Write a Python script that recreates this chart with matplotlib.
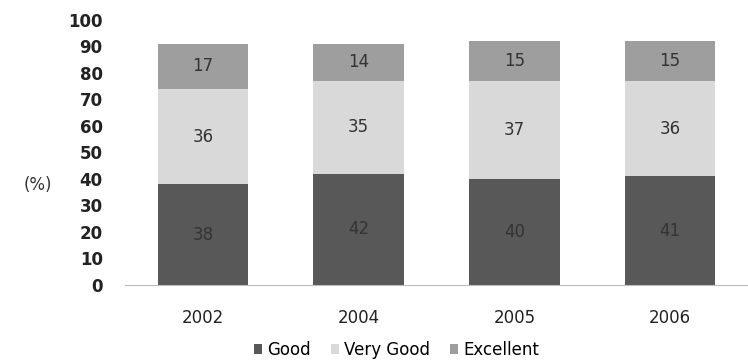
import numpy as np
import matplotlib.pyplot as plt

years = ["2002", "2004", "2005", "2006"]
good = [38, 42, 40, 41]
very_good = [36, 35, 37, 36]
excellent = [17, 14, 15, 15]

series = [
    ("Good", good, "#585858"),
    ("Very Good", very_good, "#d9d9d9"),
    ("Excellent", excellent, "#9e9e9e"),
]

fig = plt.figure(figsize=(7.48, 3.63), dpi=100)
ax = fig.add_axes([0.167, 0.215, 0.833, 0.73])

x = np.arange(len(years))
bottom = np.zeros(len(years))
for name, vals, color in series:
    ax.bar(x, vals, 0.58, bottom=bottom, color=color, label=name)
    # value label in the middle of each segment
    for xi, b, v in zip(x, bottom, vals):
        ax.text(xi, b + v / 2, str(v), ha="center", va="center",
                fontsize=12, color="#333333")
    bottom += np.array(vals)

ax.set_xlim(-0.5, len(years) - 0.5)
ax.set_ylim(0, 100)
ax.set_yticks(range(0, 101, 10))
ax.set_xticks(x)
ax.set_xticklabels(years, fontsize=12, color="#222222")
for lbl in ax.get_yticklabels():
    lbl.set_fontsize(12)
    lbl.set_fontweight("bold")
    lbl.set_color("#222222")
ax.tick_params(axis="both", length=0)
ax.tick_params(axis="x", pad=17)
ax.tick_params(axis="y", pad=16)
for side in ["top", "right", "left"]:
    ax.spines[side].set_visible(False)
ax.spines["bottom"].set_color("#bbbbbb")

fig.text(0.05, 0.49, "(%)", fontsize=12, color="#333333", ha="center", va="center")

fig.legend(loc="lower center", bbox_to_anchor=(0.53, -0.03), ncol=3, frameon=False,
           fontsize=12, handlelength=0.5, handleheight=0.5, handletextpad=0.3,
           columnspacing=1.2)

fig.savefig("out.png", dpi=100)
